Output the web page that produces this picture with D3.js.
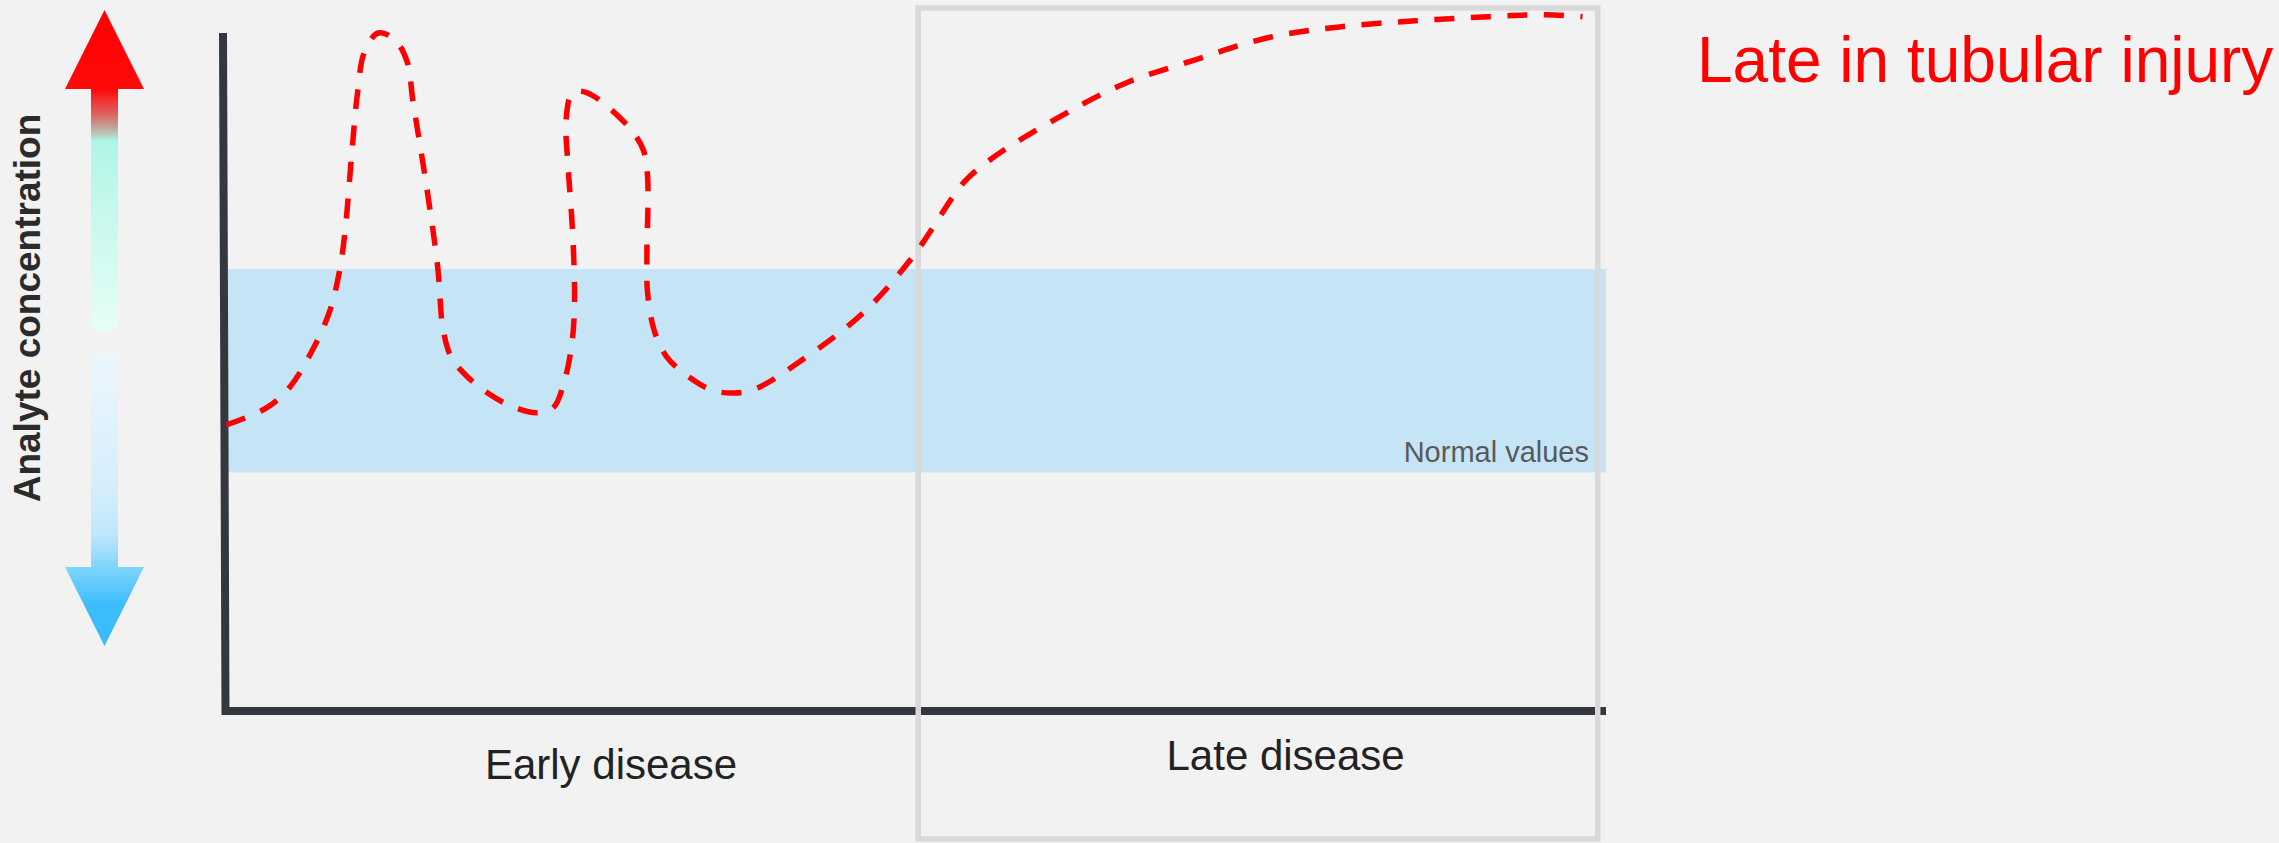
<!DOCTYPE html>
<html>
<head>
<meta charset="utf-8">
<script src="https://cdn.jsdelivr.net/npm/d3@7"></script>
<style>
  html, body { margin: 0; padding: 0; background: #f2f2f2; }
  svg { display: block; }
  text { font-family: "Liberation Sans", Arial, sans-serif; }
</style>
</head>
<body>
<svg id="chart" width="2279" height="843"></svg>
<script>
// ---------------- DATA ----------------
const title = "Late in tubular injury";
const yAxisLabel = "Analyte concentration";
const bandLabel = "Normal values";
// normal range (concentration units)
const normalRange = [35.2, 65.2];
// disease phases along the time axis
const phaseNames = ["Early disease", "Late disease"];
const phaseStart = [0, 50.2];
const phaseEnd = [50.2, 99.4];
// dashed curve: time (x) and concentration (y)
const curveTime = [0.1, 3.0, 4.7, 6.4, 7.6, 8.3, 8.7, 9.2, 9.6, 10.1, 11.1, 12.3, 13.2, 13.6, 14.6, 15.4, 15.8, 16.4, 17.4, 18.8, 20.6, 22.6, 23.8, 24.5, 25.05, 25.3, 25.2, 24.85, 24.7, 25.1, 25.7, 26.6, 27.9, 29.5, 30.3, 30.6, 30.55, 30.6, 31.1, 32.0, 33.7, 35.3, 36.9, 38.5, 41.6, 46.2, 49.8, 52.7, 53.6, 55.6, 60.4, 65.2, 70.2, 75.5, 80.7, 86.2, 91.5, 95.6, 98.3];
const curveConc = [42.2, 44.7, 47.8, 53.5, 59.1, 65.0, 70.9, 82.7, 91.2, 97.2, 100.0, 99.0, 95.7, 90.1, 77.3, 65.5, 56.2, 52.1, 49.6, 47.2, 45.1, 44.0, 44.8, 48.1, 53.2, 59.1, 69.5, 80.2, 87.2, 91.0, 91.4, 90.8, 88.8, 85.5, 82.7, 78.8, 67.0, 61.7, 56.0, 52.2, 49.1, 47.3, 46.9, 47.6, 51.5, 58.7, 67.0, 75.8, 78.2, 81.6, 87.6, 92.6, 96.0, 99.3, 100.9, 101.8, 102.4, 102.7, 102.4];

// ---------------- LAYOUT ----------------
const svg = d3.select("#chart");
const x = d3.scaleLinear().domain([0, 100]).range([225, 1606]);
const y = d3.scaleLinear().domain([0, 100]).range([711, 33]);

// background
svg.append("rect").attr("width", 2279).attr("height", 843).attr("fill", "#f2f2f2");

// normal band
svg.append("rect")
  .attr("x", x(0)).attr("width", x(100) - x(0))
  .attr("y", y(normalRange[1])).attr("height", y(normalRange[0]) - y(normalRange[1]))
  .attr("fill", "#c5e5f7");
svg.append("text")
  .attr("x", x(100) - 17).attr("y", y(normalRange[0]) - 10)
  .attr("text-anchor", "end").attr("font-size", 29).attr("fill", "#595959")
  .text(bandLabel);

// axes
const axisColor = "#33373e";
svg.append("line")
  .attr("x1", x(0) - 2).attr("y1", y(100))
  .attr("x2", x(0) + 0.5).attr("y2", y(0) + 4)
  .attr("stroke", axisColor).attr("stroke-width", 8);
svg.append("line")
  .attr("x1", x(0) - 3).attr("y1", y(0))
  .attr("x2", x(100)).attr("y2", y(0))
  .attr("stroke", axisColor).attr("stroke-width", 8);

// late disease box
const lateIdx = 1;
svg.append("rect")
  .attr("x", x(phaseStart[lateIdx])).attr("y", 8)
  .attr("width", x(phaseEnd[lateIdx]) - x(phaseStart[lateIdx]))
  .attr("height", 831)
  .attr("fill", "none").attr("stroke", "#d9d9d9").attr("stroke-width", 5.5);

// phase labels
const labelBaselines = [779, 770];
phaseNames.forEach((name, i) => {
  const cx = i === 0 ? x(27.95) : x(76.8);
  svg.append("text")
    .attr("x", cx).attr("y", labelBaselines[i])
    .attr("text-anchor", "middle").attr("font-size", 42).attr("fill", "#222222")
    .text(name);
});

// dashed curve
const pts = curveTime.map((t, i) => [t, curveConc[i]]);
const line = d3.line()
  .x(d => x(d[0])).y(d => y(d[1]))
  .curve(d3.curveCatmullRom.alpha(0.5));
svg.append("path")
  .attr("d", line(pts))
  .attr("fill", "none").attr("stroke", "#ff0000")
  .attr("stroke-width", 5.5).attr("stroke-dasharray", "20,16.5");

// title
svg.append("text")
  .attr("x", 1697).attr("y", 82)
  .attr("font-size", 64).attr("fill", "#ff0000")
  .text(title);

// ---------------- left double arrow ----------------
const defs = svg.append("defs");
const gUp = defs.append("linearGradient").attr("id", "gUp")
  .attr("gradientUnits", "userSpaceOnUse").attr("x1", 0).attr("x2", 0).attr("y1", 10).attr("y2", 330);
[[0, "#ff0000"], [0.25, "#ff0a0a"], [0.29, "#ee3a3a"], [0.33, "#d86a62"], [0.37, "#c0aaa0"], [0.41, "#aef5e5"], [0.6, "#c3f8ec"], [1, "#e6fdf7"]]
  .forEach(s => gUp.append("stop").attr("offset", s[0]).attr("stop-color", s[1]));
const gDown = defs.append("linearGradient").attr("id", "gDown")
  .attr("gradientUnits", "userSpaceOnUse").attr("x1", 0).attr("x2", 0).attr("y1", 355).attr("y2", 646);
[[0, "#ebf6fd"], [0.45, "#d6eefc"], [0.62, "#bfe6fc"], [0.73, "#7fd5fd"], [0.86, "#3cbdfb"], [1, "#38bcfc"]]
  .forEach(s => gDown.append("stop").attr("offset", s[0]).attr("stop-color", s[1]));

const ax = 104.5, headHalf = 39.5, shaftHalf = 13.5;
const upPath = d3.path();
upPath.moveTo(ax, 10);
upPath.lineTo(ax + headHalf, 89);
upPath.lineTo(ax + shaftHalf, 89);
upPath.lineTo(ax + shaftHalf, 330);
upPath.lineTo(ax - shaftHalf, 330);
upPath.lineTo(ax - shaftHalf, 89);
upPath.lineTo(ax - headHalf, 89);
upPath.closePath();
svg.append("path").attr("d", upPath.toString()).attr("fill", "url(#gUp)");

const downPath = d3.path();
downPath.moveTo(ax - shaftHalf, 355);
downPath.lineTo(ax + shaftHalf, 355);
downPath.lineTo(ax + shaftHalf, 567);
downPath.lineTo(ax + headHalf, 567);
downPath.lineTo(ax, 646);
downPath.lineTo(ax - headHalf, 567);
downPath.lineTo(ax - shaftHalf, 567);
downPath.closePath();
svg.append("path").attr("d", downPath.toString()).attr("fill", "url(#gDown)");

svg.append("text")
  .attr("transform", "translate(40,308) rotate(-90)")
  .attr("text-anchor", "middle").attr("font-size", 37).attr("font-weight", "bold")
  .attr("fill", "#2b2b2b")
  .text(yAxisLabel);
</script>
</body>
</html>
